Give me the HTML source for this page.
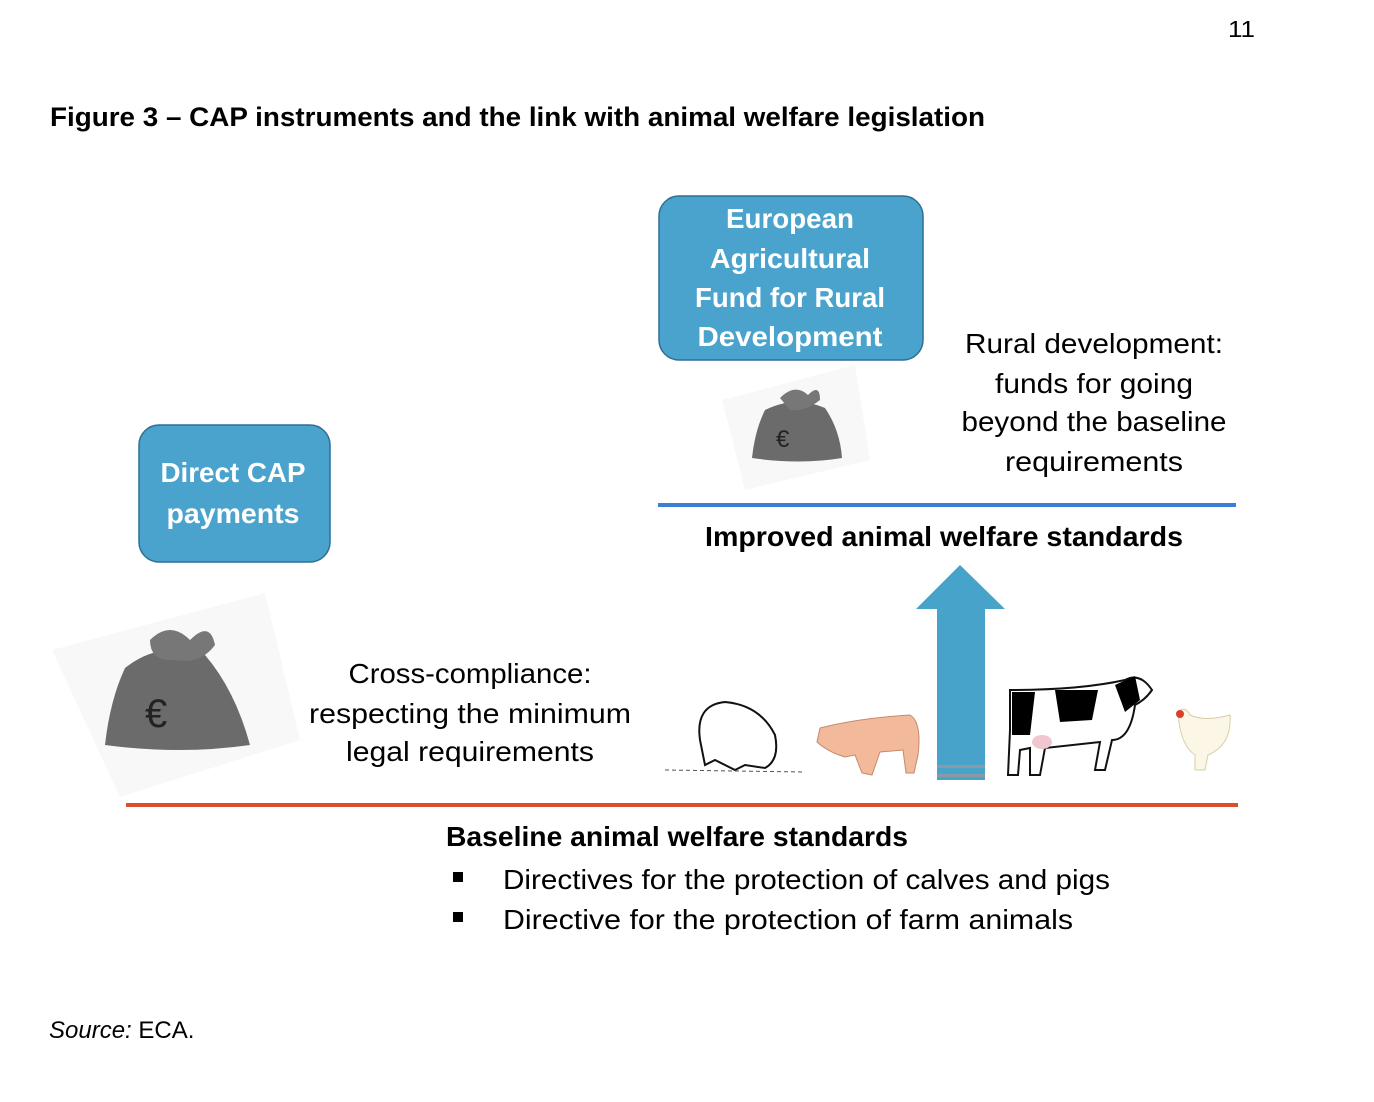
<!DOCTYPE html>
<html><head><meta charset="utf-8"><style>
html,body{margin:0;padding:0;background:#fff;}
svg{display:block;}
text{font-family:"Liberation Sans",sans-serif;}
</style></head><body>
<svg width="1374" height="1102" viewBox="0 0 1374 1102" xmlns="http://www.w3.org/2000/svg">
<rect width="1374" height="1102" fill="#fff"/>
<text x="1228" y="37" font-size="23" textLength="27" lengthAdjust="spacingAndGlyphs">11</text>
<text x="50" y="126" font-size="27" font-weight="bold" textLength="935" lengthAdjust="spacingAndGlyphs">Figure 3 – CAP instruments and the link with animal welfare legislation</text>

<rect x="659" y="196" width="264" height="164" rx="20" fill="#4aa3cc" stroke="#2e6f96" stroke-width="1.5"/>
<g fill="#fff" font-weight="bold" font-size="28" text-anchor="middle">
<text x="790" y="228" textLength="128" lengthAdjust="spacingAndGlyphs">European</text>
<text x="790" y="268" textLength="160" lengthAdjust="spacingAndGlyphs">Agricultural</text>
<text x="790" y="307" textLength="190" lengthAdjust="spacingAndGlyphs">Fund for Rural</text>
<text x="790" y="346" textLength="185" lengthAdjust="spacingAndGlyphs">Development</text>
</g>

<rect x="139" y="425" width="191" height="137" rx="20" fill="#4aa3cc" stroke="#2e6f96" stroke-width="1.5"/>
<g fill="#fff" font-weight="bold" font-size="28" text-anchor="middle">
<text x="233" y="482" textLength="145" lengthAdjust="spacingAndGlyphs">Direct CAP</text>
<text x="233" y="523" textLength="133" lengthAdjust="spacingAndGlyphs">payments</text>
</g>

<g>
<polygon points="52,650 265,593 300,740 120,797" fill="#f8f8f8"/>
<path d="M125,668 Q160,640 205,655 Q235,690 250,745 Q180,755 105,745 Q110,700 125,668Z" fill="#6b6b6b"/>
<path d="M150,640 Q170,620 190,640 Q210,620 215,645 Q200,665 175,660 Q150,662 150,640Z" fill="#777"/>
<text x="145" y="727" font-size="40" fill="#222">€</text>
</g>
<g>
<polygon points="722,400 855,365 870,460 745,490" fill="#f8f8f8"/>
<path d="M765,410 Q795,395 825,408 Q840,430 842,458 Q800,465 752,458 Q755,430 765,410Z" fill="#6b6b6b"/>
<path d="M780,398 Q795,383 808,395 Q820,383 820,400 Q805,412 790,410Z" fill="#777"/>
<text x="776" y="447" font-size="24" fill="#222">€</text>
</g>

<g font-size="28" text-anchor="middle" fill="#000">
<text x="1094" y="353" textLength="258" lengthAdjust="spacingAndGlyphs">Rural development:</text>
<text x="1094" y="393" textLength="198" lengthAdjust="spacingAndGlyphs">funds for going</text>
<text x="1094" y="431" textLength="265" lengthAdjust="spacingAndGlyphs">beyond the baseline</text>
<text x="1094" y="471" textLength="178" lengthAdjust="spacingAndGlyphs">requirements</text>
</g>

<line x1="658" y1="505" x2="1236" y2="505" stroke="#3b80d6" stroke-width="4"/>
<text x="944" y="546" font-size="28" font-weight="bold" text-anchor="middle" textLength="478" lengthAdjust="spacingAndGlyphs">Improved animal welfare standards</text>

<polygon points="960,565 1005,609 985,609 985,780 937,780 937,609 916,609" fill="#47a3c9"/>
<rect x="937" y="765" width="48" height="3" fill="#8a9aa5"/>
<rect x="937" y="774" width="48" height="3" fill="#8a9aa5"/>

<g font-size="28" text-anchor="middle">
<text x="470" y="683" textLength="243" lengthAdjust="spacingAndGlyphs">Cross-compliance:</text>
<text x="470" y="723" textLength="322" lengthAdjust="spacingAndGlyphs">respecting the minimum</text>
<text x="470" y="761" textLength="248" lengthAdjust="spacingAndGlyphs">legal requirements</text>
</g>

<g>
<path d="M700,740 Q695,705 725,702 Q760,705 775,735 Q780,760 765,768 L745,765 L735,770 L715,760 L705,765Z" fill="#fff" stroke="#111" stroke-width="2"/>
<line x1="665" y1="770" x2="805" y2="772" stroke="#555" stroke-width="1" stroke-dasharray="4 3"/>
<path d="M820,728 Q860,718 910,715 Q922,722 918,755 L914,773 L906,773 L903,750 L880,752 L872,775 L862,773 L855,755 L845,757 Q828,752 817,742Z" fill="#f2b99b" stroke="#c58a6d" stroke-width="1"/>
<path d="M1010,690 Q1080,690 1125,680 Q1140,672 1152,690 Q1145,700 1135,705 Q1130,740 1112,740 L1105,770 L1095,770 L1100,742 L1045,748 L1040,775 L1030,775 L1030,748 L1020,750 L1018,775 L1008,775 L1010,730Z" fill="#fff" stroke="#111" stroke-width="2"/>
<path d="M1012,692 L1035,692 L1030,735 L1012,735Z" fill="#000"/>
<path d="M1055,690 L1098,690 L1092,720 L1060,722Z" fill="#000"/>
<path d="M1115,685 L1135,676 L1140,700 L1125,712Z" fill="#000"/>
<ellipse cx="1042" cy="742" rx="10" ry="7" fill="#f0c6cf"/>
<path d="M1178,712 Q1185,705 1190,715 Q1205,722 1230,715 Q1232,745 1208,755 L1205,770 L1195,770 L1195,755 Q1180,745 1178,712Z" fill="#fbf6e6" stroke="#d8cfa8" stroke-width="1"/>
<circle cx="1180" cy="714" r="4" fill="#d9412b"/>
</g>

<line x1="126" y1="805" x2="1238" y2="805" stroke="#d9502b" stroke-width="4"/>
<text x="677" y="846" font-size="28" font-weight="bold" text-anchor="middle" textLength="462" lengthAdjust="spacingAndGlyphs">Baseline animal welfare standards</text>
<rect x="453" y="872" width="10" height="10" fill="#000"/>
<rect x="453" y="912" width="10" height="10" fill="#000"/>
<text x="503" y="889" font-size="28" textLength="607" lengthAdjust="spacingAndGlyphs">Directives for the protection of calves and pigs</text>
<text x="503" y="929" font-size="28" textLength="570" lengthAdjust="spacingAndGlyphs">Directive for the protection of farm animals</text>

<text x="49" y="1038" font-size="24"><tspan font-style="italic">Source:</tspan> ECA.</text>
</svg>
</body></html>
